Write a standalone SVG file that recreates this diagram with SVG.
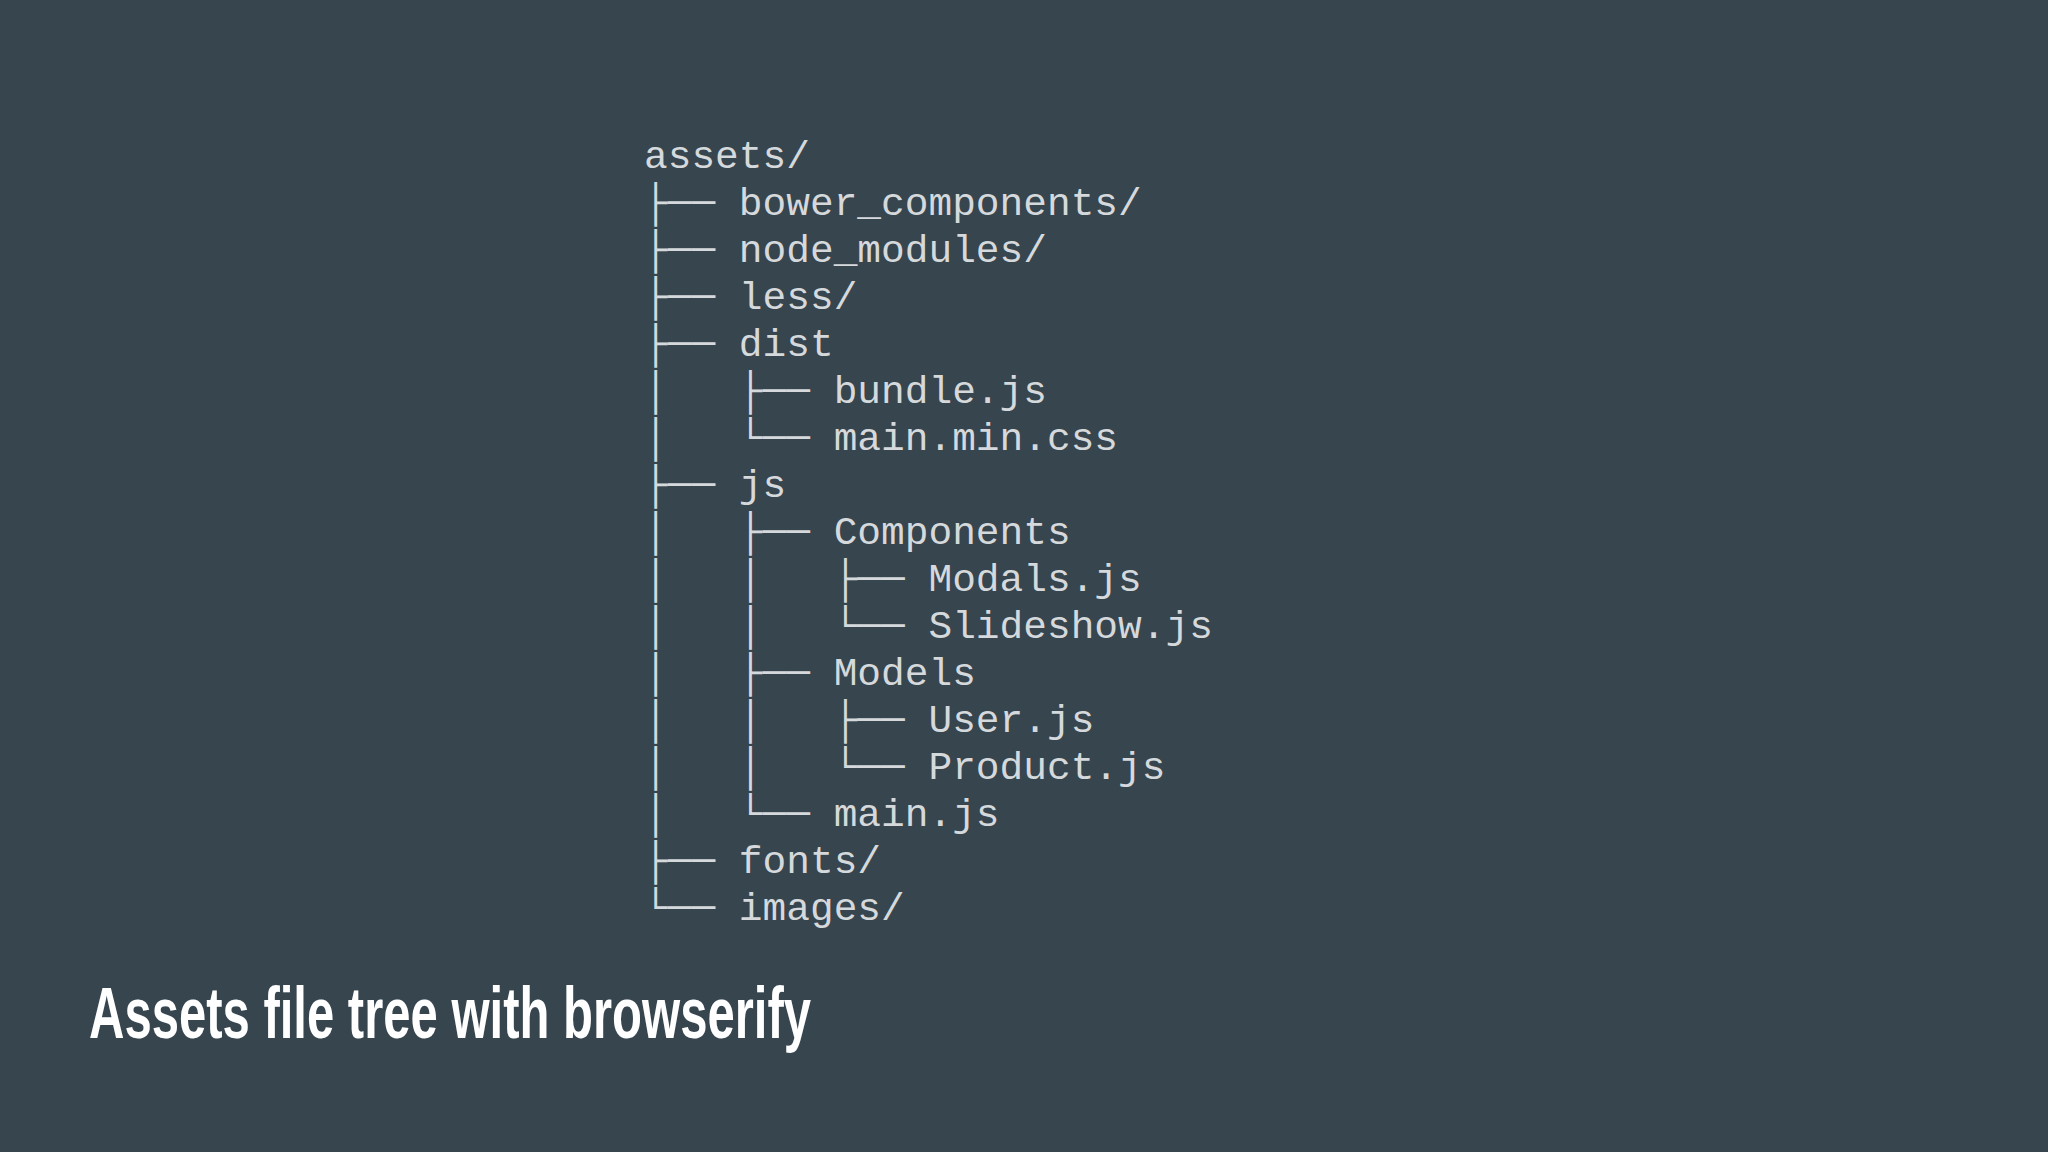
<svg xmlns="http://www.w3.org/2000/svg" width="2048" height="1152" viewBox="0 0 2048 1152">
<style>
.t{font-family:"Liberation Mono","DejaVu Sans Mono",monospace;font-size:39.5px;fill:#d5d9db}
.title{font-family:"Liberation Sans Narrow","Liberation Sans",sans-serif;font-weight:bold;font-size:72px;fill:#ffffff}
</style>
<rect width="2048" height="1152" fill="#37454f"/>
<g id="tree" class="t">
<text id="n0" x="644" y="168">assets/</text>
<text id="n1" x="644" y="215">├──&#160;bower_components/</text>
<text id="n2" x="644" y="262">├──&#160;node_modules/</text>
<text id="n3" x="644" y="309">├──&#160;less/</text>
<text id="n4" x="644" y="356">├──&#160;dist</text>
<text id="n5" x="644" y="403">│&#160;&#160;&#160;├──&#160;bundle.js</text>
<text id="n6" x="644" y="450">│&#160;&#160;&#160;└──&#160;main.min.css</text>
<text id="n7" x="644" y="497">├──&#160;js</text>
<text id="n8" x="644" y="544">│&#160;&#160;&#160;├──&#160;Components</text>
<text id="n9" x="644" y="591">│&#160;&#160;&#160;│&#160;&#160;&#160;├──&#160;Modals.js</text>
<text id="n10" x="644" y="638">│&#160;&#160;&#160;│&#160;&#160;&#160;└──&#160;Slideshow.js</text>
<text id="n11" x="644" y="685">│&#160;&#160;&#160;├──&#160;Models</text>
<text id="n12" x="644" y="732">│&#160;&#160;&#160;│&#160;&#160;&#160;├──&#160;User.js</text>
<text id="n13" x="644" y="779">│&#160;&#160;&#160;│&#160;&#160;&#160;└──&#160;Product.js</text>
<text id="n14" x="644" y="826">│&#160;&#160;&#160;└──&#160;main.js</text>
<text id="n15" x="644" y="873">├──&#160;fonts/</text>
<text id="n16" x="644" y="920">└──&#160;images/</text>
</g>
<text id="title" class="title" x="89" y="1038" textLength="722" lengthAdjust="spacingAndGlyphs">Assets file tree with browserify</text>
</svg>
